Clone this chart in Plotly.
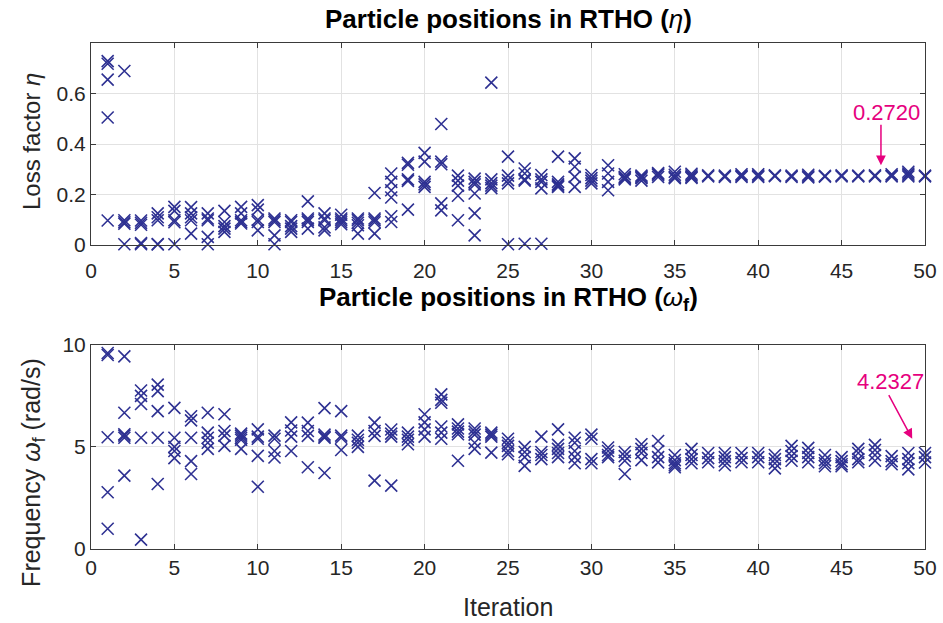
import plotly.graph_objects as go

# Particle positions per PSO iteration (one list of particle values per iteration)
iterations = list(range(1, 51))

eta_positions = [
    [0.728, 0.718, 0.655, 0.505, 0.097],
    [0.689, 0.098, 0.090, 0.084, 0.003],
    [0.097, 0.088, 0.080, 0.008, 0.003],
    [0.125, 0.110, 0.098, 0.004, 0.002],
    [0.151, 0.135, 0.098, 0.090, 0.003],
    [0.150, 0.125, 0.110, 0.098, 0.045],
    [0.125, 0.105, 0.098, 0.032, 0.003],
    [0.135, 0.091, 0.075, 0.065, 0.052],
    [0.151, 0.125, 0.098, 0.091, 0.085],
    [0.158, 0.140, 0.100, 0.091, 0.058],
    [0.105, 0.098, 0.091, 0.038, 0.003],
    [0.098, 0.091, 0.075, 0.065, 0.052],
    [0.173, 0.105, 0.098, 0.091, 0.065],
    [0.125, 0.105, 0.098, 0.070, 0.058],
    [0.120, 0.105, 0.098, 0.090, 0.082],
    [0.105, 0.098, 0.088, 0.078, 0.045],
    [0.206, 0.105, 0.098, 0.090, 0.045],
    [0.283, 0.250, 0.217, 0.188, 0.114, 0.091],
    [0.325, 0.318, 0.260, 0.254, 0.140],
    [0.365, 0.330, 0.250, 0.240, 0.230],
    [0.479, 0.330, 0.320, 0.165, 0.137],
    [0.275, 0.255, 0.235, 0.195, 0.098],
    [0.263, 0.250, 0.240, 0.204, 0.125, 0.038],
    [0.643, 0.260, 0.245, 0.235, 0.225],
    [0.350, 0.275, 0.257, 0.244, 0.003],
    [0.303, 0.283, 0.260, 0.255, 0.005],
    [0.277, 0.260, 0.250, 0.224, 0.005],
    [0.350, 0.250, 0.240, 0.235, 0.230],
    [0.343, 0.310, 0.270, 0.230],
    [0.277, 0.265, 0.255, 0.244],
    [0.316, 0.283, 0.250, 0.217],
    [0.280, 0.270, 0.265, 0.260],
    [0.275, 0.270, 0.265, 0.255],
    [0.285, 0.280, 0.278, 0.270],
    [0.290, 0.278, 0.270, 0.265],
    [0.282, 0.276, 0.270, 0.266],
    [0.276, 0.272],
    [0.275, 0.270],
    [0.280, 0.275, 0.270],
    [0.280, 0.275, 0.270],
    [0.276, 0.273],
    [0.275, 0.270],
    [0.278, 0.272, 0.268],
    [0.274, 0.271],
    [0.276, 0.272],
    [0.275, 0.272],
    [0.2760, 0.2720],
    [0.280, 0.275, 0.272],
    [0.290, 0.283, 0.278, 0.272],
    [0.275, 0.272],
]

omega_positions = [
    [9.60, 9.50, 5.47, 2.78, 0.99],
    [9.43, 6.67, 5.62, 5.55, 5.45, 3.59],
    [7.76, 7.50, 7.10, 5.45, 0.46],
    [8.05, 7.73, 6.75, 5.45, 3.18],
    [6.91, 5.45, 5.00, 4.80, 4.45],
    [6.50, 6.30, 5.45, 4.30, 3.67],
    [6.67, 5.70, 5.45, 5.20, 4.90],
    [6.60, 5.78, 5.55, 5.05],
    [5.65, 5.55, 5.45, 5.35, 4.90],
    [5.86, 5.50, 5.40, 4.56, 3.05],
    [5.55, 5.40, 4.80, 4.48],
    [6.20, 5.80, 5.50, 4.80],
    [6.19, 5.78, 5.54, 4.00],
    [6.90, 5.60, 5.50, 5.45, 3.72],
    [6.75, 5.55, 5.45, 4.85],
    [5.55, 5.35, 5.20, 5.00],
    [6.19, 5.78, 5.54, 3.35],
    [5.85, 5.65, 5.50, 3.10],
    [5.70, 5.50, 5.35, 5.13],
    [6.60, 6.20, 5.86, 5.50],
    [7.57, 7.30, 7.16, 6.00, 5.70, 5.40],
    [6.10, 5.90, 5.75, 5.62, 4.32],
    [5.90, 5.75, 5.60, 5.20, 4.90],
    [5.70, 5.60, 5.50, 4.72],
    [5.40, 5.20, 5.05, 4.80, 4.64],
    [5.00, 4.75, 4.50, 4.07],
    [5.50, 4.75, 4.60, 4.40],
    [5.86, 5.10, 4.90, 4.70, 4.50],
    [5.45, 5.20, 4.80, 4.50, 4.20],
    [5.60, 5.40, 4.40, 4.20],
    [4.97, 4.80, 4.60, 4.50],
    [4.75, 4.55, 4.32, 3.67],
    [5.13, 4.90, 4.70, 4.35],
    [5.29, 4.80, 4.50, 4.24],
    [4.60, 4.35, 4.20, 4.10, 4.00],
    [4.90, 4.60, 4.40, 4.20],
    [4.70, 4.45, 4.25],
    [4.70, 4.50, 4.30, 4.10],
    [4.70, 4.45, 4.25],
    [4.70, 4.50, 4.25],
    [4.60, 4.40, 4.20, 3.95],
    [5.05, 4.80, 4.55, 4.32],
    [4.95, 4.70, 4.50, 4.25],
    [4.60, 4.35, 4.20, 4.05],
    [4.50, 4.30, 4.15, 4.05],
    [4.90, 4.70, 4.40, 4.25],
    [5.10, 4.85, 4.60, 4.32],
    [4.55, 4.30, 4.15],
    [4.70, 4.40, 4.20, 3.90],
    [4.70, 4.50, 4.2327],
]

x_ticks = [0, 5, 10, 15, 20, 25, 30, 35, 40, 45, 50]
eta_ticks = [0, 0.2, 0.4, 0.6]
eta_tick_text = ["0", "0.2", "0.4", "0.6"]
omega_ticks = [0, 5, 10]

eta_best, eta_best_iter = 0.2720, 47
omega_best, omega_best_iter = 4.2327, 50

MARK = "#2E3192"
PINK = "#E6007E"
AXC = "#3a3a3a"
TXT = "#262626"
FONT = "Liberation Sans, Arial, Helvetica, sans-serif"

TOP_DOMAIN = [0.6008, 1]
BOTTOM_DOMAIN = [0, 0.4036]


def flatten(per_iter):
    xs, ys = [], []
    for it, vals in zip(iterations, per_iter):
        xs.extend([it] * len(vals))
        ys.extend(vals)
    return xs, ys


ex, ey = flatten(eta_positions)
ox, oy = flatten(omega_positions)

marker = dict(symbol="x-thin", size=12, color=MARK, line=dict(width=1.6, color=MARK))

fig = go.Figure()
fig.add_trace(go.Scatter(x=ex, y=ey, mode="markers", marker=marker,
                         xaxis="x", yaxis="y", cliponaxis=False, showlegend=False))
fig.add_trace(go.Scatter(x=ox, y=oy, mode="markers", marker=marker,
                         xaxis="x2", yaxis="y2", cliponaxis=False, showlegend=False))

common = dict(showline=True, linecolor=AXC, linewidth=1, mirror="ticks",
              ticks="inside", ticklen=5, tickcolor=AXC, tickwidth=1,
              showgrid=True, gridcolor="#e2e2e2", gridwidth=1, zeroline=False,
              automargin=False,
              tickfont=dict(family=FONT, size=21, color=TXT))

fig.update_layout(
    width=943, height=623,
    margin=dict(l=91, r=18, t=43, b=74),
    paper_bgcolor="white", plot_bgcolor="white",
    font=dict(family=FONT, color=TXT),
    xaxis=dict(domain=[0, 1], anchor="y", range=[0, 50], tickvals=x_ticks,
               ticklabelstandoff=7, **common),
    yaxis=dict(domain=TOP_DOMAIN, anchor="x", range=[0, 0.8], tickvals=eta_ticks,
               ticktext=eta_tick_text, **common),
    xaxis2=dict(domain=[0, 1], anchor="y2", range=[0, 50], tickvals=x_ticks, **common),
    yaxis2=dict(domain=BOTTOM_DOMAIN, anchor="x2", range=[0, 10], tickvals=omega_ticks,
                **common),
)

annotations = [
    dict(text="<b>Particle positions in RTHO (</b><i>η</i><b>)</b>",
         xref="paper", yref="paper", x=0.5, y=TOP_DOMAIN[1], yshift=24, yanchor="middle",
         showarrow=False, font=dict(size=26, color="#000000")),
    dict(text="<b>Particle positions in RTHO (</b><i>ω</i><sub><b>f</b></sub><b>)</b>",
         xref="paper", yref="paper", x=0.5, y=BOTTOM_DOMAIN[1], yshift=46, yanchor="middle",
         showarrow=False, font=dict(size=26, color="#000000")),
    # axis labels
    dict(text="Loss factor <i>η</i>", textangle=-90,
         xref="paper", yref="paper", x=0, xshift=-59, y=sum(TOP_DOMAIN) / 2, yshift=2,
         xanchor="center", yanchor="middle", showarrow=False,
         font=dict(size=24, color=TXT)),
    dict(text="Frequency <i>ω</i><sub>f</sub> (rad/s)", textangle=-90,
         xref="paper", yref="paper", x=0, xshift=-58, y=sum(BOTTOM_DOMAIN) / 2, yshift=-26,
         xanchor="center", yanchor="middle", showarrow=False,
         font=dict(size=25, color=TXT)),
    dict(text="Iteration", xref="paper", yref="paper", x=0.5, y=0, yshift=-58,
         xanchor="center", yanchor="middle", showarrow=False,
         font=dict(size=25, color=TXT)),
    # arrow to the best loss factor
    dict(text="", xref="x", yref="y", x=eta_best_iter, y=eta_best, xshift=6,
         showarrow=True, ax=0, ay=-53, standoff=11, arrowhead=2, arrowsize=1.3,
         arrowwidth=1.5, arrowcolor=PINK),
    dict(text=f"{eta_best:.4f}", xref="x", yref="y", x=eta_best_iter, y=eta_best,
         xshift=12, yshift=64, showarrow=False, font=dict(size=22, color=PINK)),
    # arrow to the best frequency
    dict(text="", xref="x2", yref="y2", x=omega_best_iter, y=omega_best,
         showarrow=True, ax=-37, ay=-69, standoff=27, arrowhead=2, arrowsize=1.3,
         arrowwidth=1.5, arrowcolor=PINK),
    dict(text=f"{omega_best:.4f}", xref="x2", yref="y2", x=omega_best_iter, y=omega_best,
         xshift=-35, yshift=81, showarrow=False, font=dict(size=22, color=PINK)),
]
fig.update_layout(annotations=annotations)

fig.write_html("out.html")
